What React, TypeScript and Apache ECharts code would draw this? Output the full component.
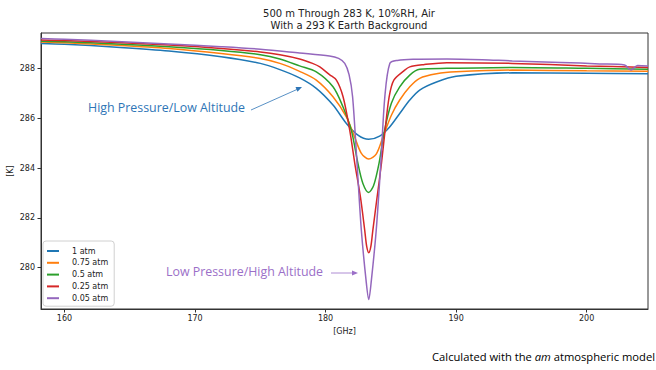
import React, { useEffect, useRef } from "react";
import * as echarts from "echarts";

const titleText = "500 m Through 283 K, 10%RH, Air\nWith a 293 K Earth Background";
const xAxisName = "[GHz]";
const yAxisName = "[K]";
const seriesNames = ["1 atm", "0.75 atm", "0.5 atm", "0.25 atm", "0.05 atm"];
const seriesColors = ["#1f77b4", "#ff7f0e", "#2ca02c", "#d62728", "#9467bd"];
const xTicks = [160, 170, 180, 190, 200];
const yTicks = [280, 282, 284, 286, 288];

// 1 atm
const freq1 = [158.2, 160, 164, 168, 172, 175, 176.5, 178.01, 179.29, 180.57, 181.58, 182.48, 183.3, 184.14, 184.91, 185.68, 186.45, 187.21, 188.5, 190, 194.3, 200, 204.7];
const temp1 = [289.0, 288.97, 288.85, 288.7, 288.47, 288.2, 287.95, 287.62, 287.2, 286.53, 285.8, 285.32, 285.15, 285.28, 285.65, 286.19, 286.73, 287.13, 287.45, 287.68, 287.82, 287.8, 287.78];

// 0.75 atm
const freq2 = [158.2, 160, 164, 168, 172, 175, 176.5, 178.01, 179.29, 180.57, 181.58, 182.22, 182.73, 183.3, 183.88, 184.4, 185.04, 185.68, 186.45, 187.21, 188.5, 190, 194.3, 200, 204.7];
const temp2 = [289.06, 289.03, 288.93, 288.8, 288.6, 288.4, 288.2, 287.88, 287.53, 286.86, 286.06, 285.25, 284.6, 284.36, 284.56, 285.25, 286.12, 286.73, 287.26, 287.6, 287.78, 287.86, 287.93, 287.9, 287.88];

// 0.5 atm
const freq3 = [158.2, 160, 164, 168, 172, 175, 176.5, 178.01, 179.29, 180.57, 181.33, 181.97, 182.48, 182.86, 183.3, 183.68, 184.09, 184.52, 185.04, 185.68, 186.45, 187.21, 189.3, 194.3, 200, 204.7];
const temp3 = [289.09, 289.07, 288.98, 288.87, 288.72, 288.55, 288.38, 288.1, 287.86, 287.26, 286.46, 285.52, 284.18, 283.38, 283.02, 283.3, 284.18, 285.52, 286.6, 287.26, 287.73, 287.96, 288.0, 288.04, 288.0, 287.96];

// 0.25 atm
const freq4 = [158.2, 160, 164, 168, 172, 175, 176.5, 178.01, 179.0, 179.56, 180.3, 180.83, 181.34, 181.85, 182.24, 182.67, 183.0, 183.15, 183.31, 183.47, 183.62, 183.95, 184.28, 184.56, 184.87, 185.23, 186.0, 186.45, 187.5, 189.3, 194.3, 200, 204.7];
const temp4 = [289.14, 289.12, 289.04, 288.94, 288.8, 288.66, 288.55, 288.38, 288.2, 288.06, 287.75, 287.53, 286.86, 285.52, 284.18, 282.84, 281.5, 280.85, 280.6, 280.85, 281.5, 282.84, 284.18, 285.52, 286.86, 287.53, 287.9, 288.06, 288.15, 288.23, 288.2, 288.1, 288.04];

// 0.05 atm
const freq5 = [158.2, 160, 164, 168, 172, 175, 178, 180.3, 181.0, 181.47, 181.8, 182.07, 182.41, 182.74, 183.1, 183.31, 183.51, 183.88, 184.23, 184.54, 184.92, 185.5, 186.7, 189.3, 192, 194.3, 198, 201, 202.9, 203.4, 203.9, 204.7];
const temp5 = [289.2, 289.17, 289.08, 288.98, 288.87, 288.77, 288.62, 288.5, 288.4, 288.2, 287.75, 286.86, 284.18, 281.5, 279.5, 278.72, 279.5, 281.5, 284.18, 286.86, 288.2, 288.32, 288.37, 288.38, 288.35, 288.3, 288.24, 288.18, 288.14, 287.93, 288.12, 288.1];

const freqs = [freq1, freq2, freq3, freq4, freq5];
const temps = [temp1, temp2, temp3, temp4, temp5];

const annotationHigh = "High Pressure/Low Altitude";
const annotationLow = "Low Pressure/High Altitude";

export default function App() {
  const ref = useRef<HTMLDivElement>(null);
  useEffect(() => {
    if (!ref.current) return;
    const chart = echarts.init(ref.current, undefined, { renderer: "svg" });
    const tickFont = { fontFamily: "DejaVu Sans", fontSize: 8, color: "#222" };
    chart.setOption({
      animation: false,
      backgroundColor: "#ffffff",
      title: {
        text: titleText,
        left: 344,
        top: 2,
        textAlign: "center",
        textStyle: { fontFamily: "DejaVu Sans", fontSize: 10, fontWeight: "normal", color: "#222", lineHeight: 12 },
      },
      grid: {
        left: 41, right: 8, top: 33, bottom: 61,
        outerBoundsMode: "none",
        containLabel: false,
        show: true, borderColor: "#333", borderWidth: 1, backgroundColor: "transparent",
      },
      legend: {
        orient: "vertical",
        left: 43,
        top: 241,
        data: seriesNames,
        icon: "rect",
        itemWidth: 12,
        itemHeight: 2,
        itemGap: 3.8,
        padding: [6, 6, 4, 4],
        borderColor: "#d0d0d0",
        borderWidth: 1,
        borderRadius: 3,
        backgroundColor: "rgba(255,255,255,0.8)",
        textStyle: { fontFamily: "DejaVu Sans", fontSize: 8, color: "#222", padding: [0, 0, 0, 8] },
      },
      xAxis: {
        type: "value",
        min: 158.2,
        max: 204.7,
        name: xAxisName,
        nameLocation: "middle",
        nameGap: 18,
        nameMoveOverlap: false,
        nameTextStyle: { fontFamily: "DejaVu Sans", fontSize: 8, color: "#222" },
        axisLine: { show: true, onZero: false, lineStyle: { color: "#333", width: 1 } },
        axisTick: { show: true, inside: false, length: 3.5, customValues: xTicks, lineStyle: { color: "#333" } },
        axisLabel: { ...tickFont, margin: 5, customValues: xTicks },
        splitLine: { show: false },
      },
      yAxis: {
        type: "value",
        min: 278.34,
        max: 289.42,
        name: yAxisName,
        nameLocation: "middle",
        nameGap: 27,
        nameRotate: 90,
        nameMoveOverlap: false,
        nameTextStyle: { fontFamily: "DejaVu Sans", fontSize: 8, color: "#222" },
        axisLine: { show: true, onZero: false, lineStyle: { color: "#333", width: 1 } },
        axisTick: { show: true, inside: false, length: 3.5, customValues: yTicks, lineStyle: { color: "#333" } },
        axisLabel: { ...tickFont, margin: 6, customValues: yTicks },
        splitLine: { show: false },
      },
      series: seriesNames.map((name, i) => ({
        name,
        type: "line",
        data: freqs[i].map((f, j) => [f, temps[i][j]]),
        showSymbol: false,
        smooth: 0.3,
        lineStyle: { color: seriesColors[i], width: 1.5 },
        itemStyle: { color: seriesColors[i] },
        z: 2 + i,
      })),
      graphic: [
        {
          type: "text",
          left: 88,
          top: 101,
          style: { text: annotationHigh, fontFamily: "Open Sans", fontSize: 12.4, fill: "#2E75B6" },
        },
        {
          type: "line",
          shape: { x1: 251, y1: 110, x2: 298, y2: 89 },
          style: { stroke: "#2E75B6", lineWidth: 0.8 },
        },
        {
          type: "polygon",
          shape: { points: [[302, 87], [297.5, 91.7], [295.5, 87.1]] },
          style: { fill: "#2E75B6" },
        },
        {
          type: "text",
          left: 166,
          top: 265,
          style: { text: annotationLow, fontFamily: "Open Sans", fontSize: 12.4, fill: "#9B6FC8" },
        },
        {
          type: "line",
          shape: { x1: 331, y1: 273, x2: 353, y2: 273 },
          style: { stroke: "#9B6FC8", lineWidth: 0.8 },
        },
        {
          type: "polygon",
          shape: { points: [[358, 273], [352, 270.5], [352, 275.5]] },
          style: { fill: "#9B6FC8" },
        },
        {
          type: "text",
          right: 1,
          top: 351,
          style: {
            text: "Calculated with the {i|am} atmospheric model",
            fontFamily: "Open Sans",
            fontSize: 11.2,
            fill: "#000",
            rich: { i: { fontFamily: "Open Sans", fontSize: 11.2, fontStyle: "italic", fill: "#000" } },
          },
        },
      ],
    });
    return () => chart.dispose();
  }, []);
  return <div ref={ref} style={{ position: "fixed", left: 0, top: 0, width: 656, height: 370 }} />;
}
